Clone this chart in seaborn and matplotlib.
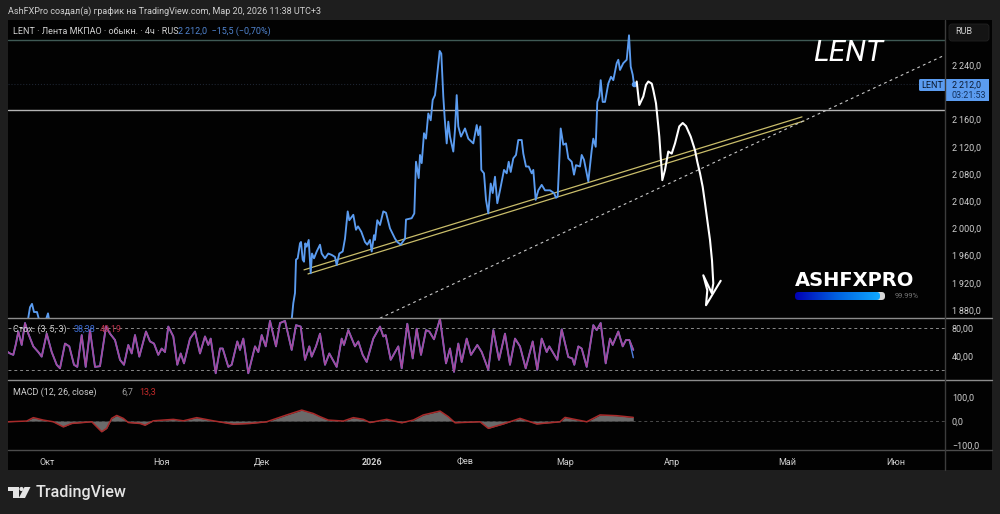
import numpy as np
import pandas as pd
import matplotlib
matplotlib.use("Agg")
import matplotlib.pyplot as plt
from matplotlib.patches import Rectangle, Circle, Polygon, FancyBboxPatch
import seaborn as sns

# ---------- data: (bar position on the time scale, value) ----------
price_points = [(8,1850),(27,1850),(28,1866),(30,1884),(32,1889),(34,1877),(37,1877),(39,1866),(46,1866),(48,1875),(49,1866),(60,1840),(150,1800),(290,1840),
(292,1870),(293.3,1890),(295,1905),(296,1954),(297.7,1956),(300,1978),(301,1980),(302.7,1954),(304,1951),(305.3,1978),(306.7,1973),(308.7,1983),(310.7,1934),(312,1963),(314,1956),(316.7,1966),(320,1976),(321.7,1963),(325,1956),(328.3,1963),(331.7,1961),(335,1958),(336.7,1946),(339.3,1963),(342.7,1966),(345,1985),(347.7,2025),(349.3,2012),(353.3,2020),(356,1998),(358,2003),(361.3,1995),(365,1980),(367.3,1976),(370,1983),(371.7,1966),(374,1990),(375,1983),(377.3,2012),(380,2005),(383.3,2025),(386,2023),(390,2000),(395,1985),(397.3,1980),(400.7,1976),(405,1985),(406,2013),(411.7,2015),(414.3,2022),(416,2098),(418.7,2074),(420,2108),(421.7,2096),(424,2140),(426,2132),(428.3,2169),(430.7,2159),(432.7,2189),(435,2196),(437.3,2228),(439.7,2261),(441.3,2257),(443.3,2194),(444.7,2162),(446.7,2125),(448.3,2157),(450,2135),(453.3,2113),(455,2145),(456.7,2196),(458.3,2150),(461,2135),(465,2147),(468.3,2132),(473.3,2125),(476.7,2152),(478.3,2137),(480.3,2150),(481.3,2086),(484,2081),(486,2042),(488.3,2022),(490.7,2066),(492.7,2052),(495,2076),(497.3,2037),(500,2056),(504,2086),(506.7,2081),(508.7,2098),(510.7,2083),(513.3,2103),(516,2108),(518.3,2130),(521.7,2130),(523.3,2110),(526,2091),(528.7,2091),(531.7,2081),(533.3,2086),(535.7,2042),(538.3,2056),(541.7,2064),(545,2056),(550,2056),(554,2052),(556,2045),(557.7,2047),(560.7,2147),(563.3,2123),(566,2125),(568.3,2103),(571.7,2098),(574,2079),(576,2093),(580,2091),(581.7,2108),(584,2101),(588.3,2069),(591.7,2115),(593.3,2132),(595.7,2120),(597.3,2186),(599.3,2194),(600.7,2218),(602.7,2186),(605,2186),(608.3,2213),(611,2223),(613.3,2218),(616.7,2243),(618.3,2248),(620,2233),(623.3,2243),(626.7,2248),(629,2284),(630.7,2238),(632.7,2226),(634,2212)]

sketch_points = [(636.7,2216),(639.3,2181.5),(643.3,2194),(646,2211),(648.3,2216),(651.7,2213),(653.3,2203.5),(656,2184),(657.7,2159),(659.3,2135),(660.7,2105.5),(661.7,2086),(662.3,2071),(665,2086),(668.3,2113),(671.7,2110),(675,2125),(679.3,2150),(682.7,2155),(686,2150.5),(690.7,2135),(695,2115),(697.3,2098),(700,2081),(702.7,2061),(705,2037),(707.3,2012),(710,1983),(712,1953),(713.3,1919),(711.7,1905),(703.3,1931),(707.3,1909),(706,1887),(720.7,1923)]

trend_upper = [(304,1939),(802,2164)]
trend_lower = [(308,1933),(804,2158)]
trend_dotted = [(380,1868),(945,2255)]
level_top = 2277
level_mid = 2174
level_last = 2212

stoch_points = [(7.3,46.5),(10,44),(13.3,42),(16,58),(18.3,75),(21.7,56),(25,87),(28.3,72),(33.3,54),(38.3,46),(41.7,39.5),(46.7,72),(51.7,46),(56.7,28),(60,23),(65,58),(69.3,54),(74,28),(77.3,25),(81.7,70),(85.7,25),(90,77),(95,25),(100,26),(106,82),(110,72),(115,63),(120,35),(124,28),(128.3,56),(131.7,44),(135,70),(139.3,39.5),(146,75),(150,61),(154,58),(158.3,42),(161.7,51),(165,46),(168.3,82),(173.3,68),(177.3,28),(180.7,44),(184,30),(190,65),(195,75),(200,44),(205,68),(208.3,56),(210.7,65),(215.7,16),(220,51),(222.7,51),(228.3,25),(231.7,28),(237.3,61),(240,49),(243.3,65),(248.3,16),(255,54),(258.3,46),(261.7,70),(265.7,54),(270,90),(276,54),(280,87),(285,90),(291.7,49),(296,84),(300.7,82),(305,35),(309.3,54),(311.7,39.5),(316,54),
(320,72),(325,28),(329.3,44),(336.7,25),(341.7,65),(344,56),(348.3,77),(355,54),(358.3,61),(362.7,42),(366.7,32),(373.3,65),(380,82),(383.3,68),(385.7,70),(390.7,35),(398.3,54),(401.7,23),(407.3,86),(412.7,37),(416.7,79),(421,42),(426,77),(429.3,75),(434,64),(440,93),(446,30),(450,51),(454,18),(458.3,58),(461.7,32),(466.7,65),(471,42),(477.3,56),(481.7,46),(488.3,21),(493.3,77),(499,35),(505,72),(510,28),(515,65),(520,54),(525.7,23),(532.7,61),(537.3,21),(541.7,65),(546.7,46),(549.3,54),(557.3,35),(561.7,78),(568.3,39),(572.3,37),(574.3,28),(578.3,54),(581.7,51),(586.7,25),(593.3,84),(596.7,77),(600.7,87),(605.7,30),(610,65),(612.7,56),(618.3,75),(622.7,54),(626,63),(629.3,63),(633.3,49)]
stoch_k_tail = [(629.3,63),(633.3,38)]

macd_points = [(7.3,-3),(26.7,0),(33.3,14),(43.3,4),(53.3,-3),(63.3,-24),(71.7,-10),(80,-7),(91.7,-3),(101.7,-44),(106.7,-30),(111.7,11),(116.7,23),(123.3,11),(128.3,-6),(140,-10),(145,-17),(153.3,1),(173.3,7),(183.3,1),(196.7,14),(213.3,1),(233.3,-13),(250,-10),(266.7,-3),(286.7,25),(301.7,45),(313.3,31),
(320,18),(328.3,4),(343.3,0),(353.3,14),(363.3,7),(370,-6),(386.7,7),(401.7,-7),(413.3,4),(423.3,25),(440,41),(448.3,18),(455,-7),(480,-3),(488.3,-30),(503.3,-12),(520,11),(536.7,-12),(560,-3),(565,15),(586.7,-3),(600,25),(616.7,22),(633.3,15)]

price_ticks = [2240,2160,2120,2080,2040,2000,1960,1920,1880]
price_tick_labels = ["2\u2009240,0","2\u2009160,0","2\u2009120,0","2\u2009080,0","2\u2009040,0","2\u2009000,0","1\u2009960,0","1\u2009920,0","1\u2009880,0"]
stoch_ticks = [80,40]
stoch_tick_labels = ["80,00","40,00"]
macd_ticks = [100,0,-100]
macd_tick_labels = ["100,0","0,0","−100,0"]
month_pos = [47,161,262,372,465,565,672,787,896]
month_labels = ["Окт","Ноя","Дек","2026","Фев","Мар","Апр","Май","Июн"]

def frame(points):
    return pd.DataFrame(points, columns=["x", "y"])

# ---------- style ----------
sns.set_theme(style="dark")
plt.rcParams["font.family"] = ["Roboto", "DejaVu Sans"]
W, H = 1000, 514
OUTER = "#1e1e1e"
BLACK = "#020202"
TXT = "#cfcfcf"
BLUE = "#5b9cf0"
FS = 6.5
fig = plt.figure(figsize=(W/100, H/100), dpi=100, facecolor=OUTER)

def pane(top, bottom, left=8, right=945):
    ax = fig.add_axes([left/W, 1-bottom/H, (right-left)/W, (bottom-top)/H])
    ax.set_facecolor(BLACK)
    for s in ax.spines.values():
        s.set_visible(False)
    ax.grid(False)
    ax.yaxis.tick_right()
    ax.tick_params(axis="both", length=0, colors=TXT, labelsize=FS, pad=5)
    return ax

def line(ax, points, **k):
    sns.lineplot(data=frame(points), x="x", y="y", ax=ax, estimator=None, legend=False, sort=False, **k)

def finish(ax, ylim, ticks, labels):
    ax.set_xlim(8, 945)
    ax.set_ylim(*ylim)
    ax.set_yticks(ticks, labels)
    ax.set_xticks([])
    ax.set_xlabel(""); ax.set_ylabel("")

bg = fig.add_axes([0, 0, 1, 1], zorder=-1)
bg.set_xlim(0, W); bg.set_ylim(H, 0); bg.axis("off")
bg.add_patch(Rectangle((8, 20), 984, 450, fc=BLACK, ec="none"))

# price pane
ax1 = pane(20, 318)
ax1.axhline(level_top, color="#3f5a55", lw=1)
ax1.axhline(level_last, color="#1d2430", lw=0.8, ls=":")
ax1.axhline(level_mid, color="#b4b4b4", lw=1)
line(ax1, trend_upper, color="#c9bd6a", lw=0.9)
line(ax1, trend_lower, color="#c9bd6a", lw=0.9)
line(ax1, trend_dotted, color="#c8c8c8", lw=0.8, linestyle=(0, (2.5, 3)))
line(ax1, price_points, color=BLUE, lw=1.35)
ax1.plot([price_points[-1][0]], [price_points[-1][1]], "o", color=BLUE, ms=3)
line(ax1, sketch_points, color="white", lw=1.5)
finish(ax1, (1868.2, 2306.5), price_ticks, price_tick_labels)

# stochastic pane
ax2 = pane(318, 380)
for lv in (80, 20):
    ax2.axhline(lv, color="#8a8a8a", lw=0.7, ls=(0, (3, 3)))
line(ax2, stoch_points, color="#4f7fe0", lw=1.35)
line(ax2, stoch_k_tail, color="#4f7fe0", lw=1.0)
line(ax2, stoch_points, color="#a8489c", lw=1.15)
finish(ax2, (6.5, 94.1), stoch_ticks, stoch_tick_labels)

# MACD pane
ax3 = pane(380, 450)
ax3.axhline(0, color="#4a4a4a", lw=0.7, ls=(0, (3, 3)))
mf = frame(macd_points)
ax3.fill_between(mf["x"], mf["y"], 0, color="#6a6a6a", lw=0)
line(ax3, macd_points, color="#a82a2a", lw=1.1)
finish(ax3, (-119, 168.7), macd_ticks, macd_tick_labels)
ax3.set_xticks(month_pos, month_labels)
ax3.tick_params(axis="x", labelsize=FS, pad=5.5)
for lb in ax3.get_xticklabels():
    if lb.get_text() == "2026":
        lb.set_fontweight("bold")

# overlay in picture coordinates for chart furniture
ov = fig.add_axes([0, 0, 1, 1], zorder=10, facecolor="none")
ov.set_xlim(0, W); ov.set_ylim(H, 0); ov.axis("off")
ov.plot([8, 992], [318, 318], color="#8c8c8c", lw=1)
ov.plot([8, 992], [380, 380], color="#8c8c8c", lw=1)
ov.plot([8, 992], [450, 450], color="#4c4c4c", lw=1)
ov.plot([945, 945], [20, 470], color="#3c3c3c", lw=1)

def t(x, y, s, color=TXT, size=FS, **k):
    ov.text(x, y, s, color=color, fontsize=size, va="center", **k)

t(8, 11, "AshFXPro создал(а) график на TradingView.com, Мар 20, 2026 11:38 UTC+3")
t(13, 31, "LENT · Лента МКПАО · обыкн. · 4ч · RUS")
t(178, 31, "2\u2009212,0  −15,5 (−0,70%)", color="#5084d0")
t(13, 329, "Стох. (3, 5, 3)")
t(74, 329, "38,38", color="#3f6fd8")
t(100, 329, "49,19", color="#b8324a")
t(13, 392, "MACD (12, 26, close)")
t(121, 392, "6,7", color="#9a9a9a")
t(139, 392, "13,3", color="#c22a2a")

ov.add_patch(FancyBboxPatch((949, 24), 40, 17, boxstyle="round,pad=0,rounding_size=3",
                            fc="#141414", ec="#222222", lw=0.6))
t(955, 31.5, "RUB")

ov.add_patch(FancyBboxPatch((919, 79), 28, 12, boxstyle="round,pad=0,rounding_size=1.5", fc=BLUE, ec="none"))
ov.add_patch(Rectangle((945, 79), 44, 22, fc=BLUE, ec="none"))
t(932, 85, "LENT", color="#0b1a30", ha="center")
t(952, 85.5, "2\u2009212,0", color="#0b1a30")
t(952, 95, "03:21:53", color="#12305c")

t(813, 53, "LENT", color="white", size=21.5, style="italic")
ov.text(795, 280.5, "ASHFXPRO", color="white", fontsize=14, fontweight="bold",
        family="DejaVu Sans", va="center")
grad = np.linspace(0, 1, 256).reshape(1, -1)
cmap = matplotlib.colors.LinearSegmentedColormap.from_list("b", ["#0000b4", "#0062e0", "#10a8ff"])
ov.add_patch(FancyBboxPatch((875, 292), 10, 8, boxstyle="round,pad=0,rounding_size=3.5", fc="#d8d8d8", ec="none", zorder=1))
im = ov.imshow(grad, extent=(795, 880, 300, 292), cmap=cmap, aspect="auto", zorder=2)
clip = FancyBboxPatch((795, 292), 85, 8, boxstyle="round,pad=0,rounding_size=3.5", fc="none", ec="none")
ov.add_patch(clip)
im.set_clip_path(clip)
ov.set_xlim(0, W); ov.set_ylim(H, 0)
t(895, 296, "99.99%", color="#777777", size=5.4)

ov.add_patch(Rectangle((8, 487), 11, 4, fc="#e4e4e4", ec="none"))
ov.add_patch(Rectangle((13, 487), 5.5, 11, fc="#e4e4e4", ec="none"))
ov.add_patch(Circle((21.5, 489), 2.1, fc="#e4e4e4", ec="none"))
ov.add_patch(Polygon([(24.5, 487), (30.5, 487), (25, 498), (18.8, 498)], fc="#e4e4e4", ec="none"))
t(36, 492.5, "TradingView", color="#e4e4e4", size=11.6, fontweight="medium")

fig.savefig("out.png", dpi=100, facecolor=OUTER)
